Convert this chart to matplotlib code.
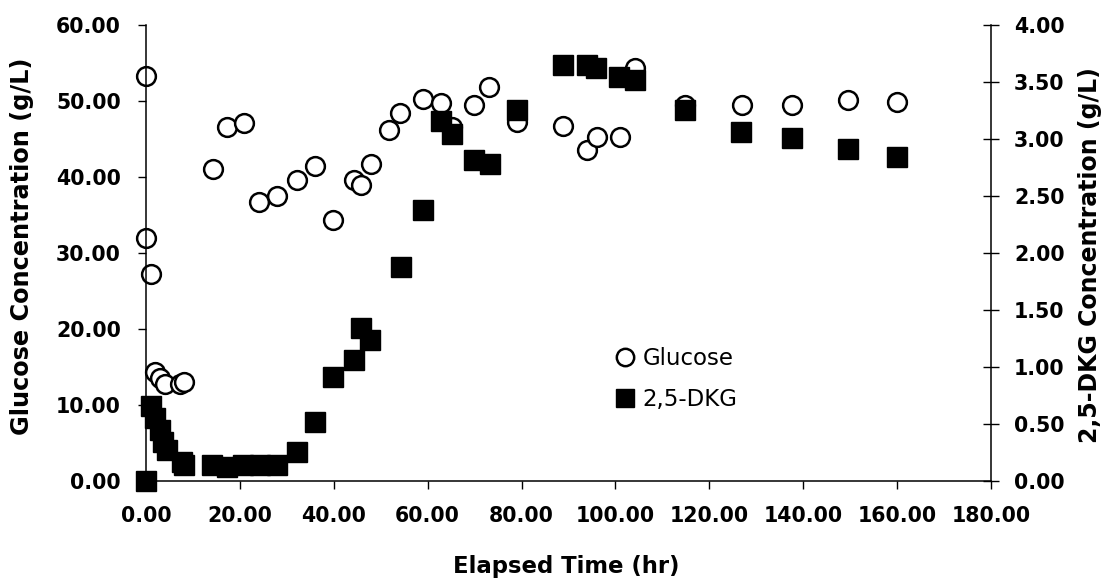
import matplotlib
matplotlib.use('Agg')
import numpy as np
from matplotlib import pyplot as plt
from matplotlib.lines import Line2D

# glucose readings (g/L) vs elapsed time (hr)
t_glucose = [0.0, 0.0, 1.0, 2.0, 3.0, 4.0, 7.2, 8.0, 14.3, 17.2, 20.9, 24.1,
             28.0, 32.1, 36.0, 39.9, 44.3, 45.8, 47.9, 51.8, 54.1, 58.9,
             62.8, 65.1, 69.9, 73.1, 79.1, 88.9, 93.9, 96.0, 101.0, 104.2,
             114.8, 126.9, 137.7, 149.5, 159.9]
glucose = [53.3, 32.0, 27.3, 14.3, 13.5, 12.7, 12.8, 13.0, 41.0, 46.6, 47.1,
           36.7, 37.5, 39.6, 41.5, 34.3, 39.6, 39.0, 41.7, 46.2, 48.4, 50.3,
           49.8, 46.6, 49.5, 51.9, 47.3, 46.7, 43.5, 45.2, 45.2, 54.4, 49.5,
           49.5, 49.5, 50.1, 49.9]

# 2,5-DKG readings (g/L)
t_dkg = [0.0, 1.0, 1.9, 3.0, 3.7, 4.5, 7.6, 8.0, 14.0, 17.2, 20.6, 24.2,
         27.8, 32.1, 36.0, 39.9, 44.3, 45.8, 47.8, 54.3, 58.9, 62.9, 65.1,
         69.9, 73.2, 79.1, 88.9, 93.9, 95.9, 100.8, 104.2, 114.8, 126.7,
         137.7, 149.5, 159.9]
dkg = [0.0, 0.66, 0.55, 0.45, 0.34, 0.27, 0.17, 0.14, 0.14, 0.12, 0.14, 0.14,
       0.14, 0.25, 0.52, 0.91, 1.06, 1.34, 1.24, 1.88, 2.38, 3.16, 3.04,
       2.82, 2.78, 3.25, 3.65, 3.65, 3.62, 3.54, 3.52, 3.25, 3.06, 3.01,
       2.91, 2.84]

x_ticks = np.arange(0, 181, 20)
y1_ticks = np.arange(0, 61, 10)
y2_ticks = np.arange(0, 4.01, 0.5)

fig = plt.figure(figsize=(11.07, 5.88), dpi=100)
ax = fig.add_axes([0.1319, 0.182, 0.7633, 0.7755])
ax2 = ax.twinx()

ax.plot(t_glucose, glucose, 'o', ms=13.5, mfc='white', mec='black', mew=1.8,
        ls='none', clip_on=False)
ax2.plot(t_dkg, dkg, 's', ms=14, mfc='black', mec='black', ls='none',
         clip_on=False)

ax.set_xlim(0, 180)
ax.set_ylim(0, 60)
ax2.set_ylim(0, 4)
ax.set_xticks(x_ticks)
ax.set_xticklabels(['%.2f' % v for v in x_ticks])
ax.set_yticks(y1_ticks)
ax.set_yticklabels(['%.2f' % v for v in y1_ticks])
ax2.set_yticks(y2_ticks)
ax2.set_yticklabels(['%.2f' % v for v in y2_ticks])

for a in (ax, ax2):
    a.spines['top'].set_visible(False)
    for s in a.spines.values():
        s.set_linewidth(1.1)
ax.spines['right'].set_visible(False)
ax2.spines['left'].set_visible(False)
ax2.spines['bottom'].set_visible(False)

ax.tick_params(axis='x', direction='out', length=6, width=1, pad=12,
               labelsize=14.8)
ax.tick_params(axis='y', direction='out', length=6, width=1, pad=12,
               labelsize=14.8)
ax2.tick_params(axis='y', direction='inout', length=11, width=1, pad=11,
                labelsize=14.8)
for lab in ax.get_xticklabels() + ax.get_yticklabels() + ax2.get_yticklabels():
    lab.set_fontweight('bold')

fig.text(566 / 1107, 1 - 567 / 588, 'Elapsed Time (hr)', ha='center',
         va='center', fontsize=16.4, fontweight='bold')
fig.text(22 / 1107, 1 - 246 / 588, 'Glucose Concentration (g/L)',
         rotation=90, ha='center', va='center', fontsize=17.3,
         fontweight='bold')
fig.text(1090 / 1107, 1 - 255 / 588, '2,5-DKG Concentration (g/L)',
         rotation=90, ha='center', va='center', fontsize=17,
         fontweight='bold')

handles = [Line2D([], [], marker='o', ls='none', ms=12.5, mfc='white',
                  mec='black', mew=1.8),
           Line2D([], [], marker='s', ls='none', ms=13, mfc='black',
                  mec='black')]
leg = ax2.legend(handles, ['Glucose', '2,5-DKG'], loc='upper left',
                 bbox_to_anchor=(616 / 1107, 1 - 347 / 588),
                 bbox_transform=fig.transFigure, frameon=False, fontsize=16.5,
                 handlelength=0.8, handletextpad=0.35, labelspacing=0.8,
                 borderpad=0, borderaxespad=0)

fig.savefig('out.png', dpi=100)
